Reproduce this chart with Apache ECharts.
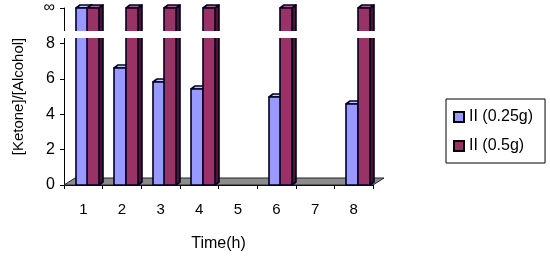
<!DOCTYPE html>
<html><head><meta charset="utf-8">
<script src="https://cdn.jsdelivr.net/npm/echarts@6/dist/echarts.min.js"></script>
<style>html,body{margin:0;padding:0;background:#fff}#c{width:550px;height:257px}</style>
</head><body><div id="c"></div>
<script>
const categories = ['1','2','3','4','5','6','7','8'];
// 10 = off-scale (shown above the axis break, labelled ∞)
const series025 = [10, 6.6, 5.8, 5.45, null, 4.95, null, 4.6];
const series05  = [10, 10, 10, 10, null, 10, null, 10];
const yTicks = [0, 2, 4, 6, 8, 10];
const seriesNames = ['II (0.25g)', 'II (0.5g)'];
const breakRange = [8.3, 8.7];

const FONT = '"Liberation Sans", Arial, sans-serif';

function toData(arr){ return arr.map((v,i)=>[i, v==null?'-':v]); }

function makeRender(offFrac, fill, topFill, sideFill){
  return function(params, api){
    const i = api.value(0), v = api.value(1);
    if (v == null || isNaN(v)) return;
    const base = api.coord([i, 0]);
    const top = api.coord([i, v]);
    const cw = api.size([1, 0])[0];
    const w = Math.round(cw * 0.3);
    const x0 = Math.round(base[0] - cw/2 + offFrac*cw);
    const yb = Math.round(base[1]), yt = Math.round(top[1]);
    const d = 4, dy = 3;
    const st = {stroke:'#000022', lineWidth:1.6, lineJoin:'round'};
    return {type:'group', children:[
      {type:'polygon', shape:{points:[[x0+w, yt],[x0+w+d, yt-dy],[x0+w+d, yb-dy],[x0+w, yb]]},
        style:Object.assign({fill:sideFill}, st)},
      {type:'polygon', shape:{points:[[x0, yt],[x0+d, yt-dy],[x0+w+d, yt-dy],[x0+w, yt]]},
        style:Object.assign({fill:topFill}, st)},
      {type:'rect', shape:{x:x0, y:yt, width:w, height:yb-yt},
        style:Object.assign({fill:fill}, st)}
    ]};
  };
}

function renderFloor(params, api){
  const cw = api.size([1, 0])[0];
  const a = api.coord([0, 0]), b = api.coord([categories.length-1, 0]);
  const left = a[0] - cw/2, right = b[0] + cw/2;
  const y = a[1];
  const d = 11, dy = 7;
  return {type:'polygon', shape:{points:[[left, y],[left+d, y-dy],[right+d, y-dy],[right, y]]},
    style:{fill:'#8c8c8c', stroke:'#222', lineWidth:1}};
}

function renderBreak(params, api){
  const cs = params.coordSys;
  const y1 = api.coord([0, breakRange[1]])[1];
  const y0 = api.coord([0, breakRange[0]])[1];
  return {type:'rect', shape:{x:cs.x - 3, y:y1, width:cs.width + 8, height:y0 - y1},
    style:{fill:'#ffffff', stroke:null}};
}

const chart = echarts.init(document.getElementById('c'), null, {renderer:'canvas'});
chart.setOption({
  animation:false,
  backgroundColor:'#fff',
  textStyle:{fontFamily:FONT},
  grid:{left:64, top:8, width:309, height:181},
  legend:{
    data:seriesNames, orient:'vertical', left:446, top:99,
    borderColor:'#000', borderWidth:1, padding:[10,12,9,7],
    itemGap:13, itemWidth:10, itemHeight:10, icon:'rect',
    textStyle:{fontSize:16, color:'#000', fontFamily:FONT}
  },
  xAxis:{
    type:'category', data:categories,
    axisLine:{lineStyle:{color:'#000'}},
    axisTick:{show:true, length:4, lineStyle:{color:'#000'}},
    axisLabel:{color:'#000', fontSize:15, margin:17, fontFamily:FONT},
    name:'Time(h)', nameLocation:'middle', nameGap:51,
    nameTextStyle:{color:'#000', fontSize:16, fontFamily:FONT},
    splitLine:{show:false}
  },
  yAxis:{
    type:'value', min:0, max:10, interval:2,
    axisLine:{show:true, lineStyle:{color:'#000'}},
    axisTick:{show:true, length:4, lineStyle:{color:'#000'}},
    axisLabel:{color:'#000', fontSize:16, margin:9, fontFamily:FONT,
      formatter:v => (v === yTicks[yTicks.length-1] ? '∞' : String(v))},
    splitLine:{show:false},
    name:'[Ketone]/[Alcohol]', nameLocation:'middle', nameGap:38,
    nameTextStyle:{color:'#000', fontSize:15, fontFamily:FONT}
  },
  series:[
    {type:'custom', name:'floor', renderItem:renderFloor, data:[[0,0]], z:1, silent:true},
    {type:'custom', name:seriesNames[0], renderItem:makeRender(0.3, '#9999ff', '#c4c4ff', '#6666cc'),
      data:toData(series025), encode:{x:0, y:1}, z:2,
      itemStyle:{color:'#9999ff', borderColor:'#000', borderWidth:1}},
    {type:'custom', name:seriesNames[1], renderItem:makeRender(0.6, '#993366', '#b85c85', '#4e1230'),
      data:toData(series05), encode:{x:0, y:1}, z:3,
      itemStyle:{color:'#993366', borderColor:'#000', borderWidth:1}},
    {type:'custom', name:'break', renderItem:renderBreak, data:[[0, breakRange[0]]], z:10, silent:true,
      clip:false}
  ]
});
</script></body></html>
